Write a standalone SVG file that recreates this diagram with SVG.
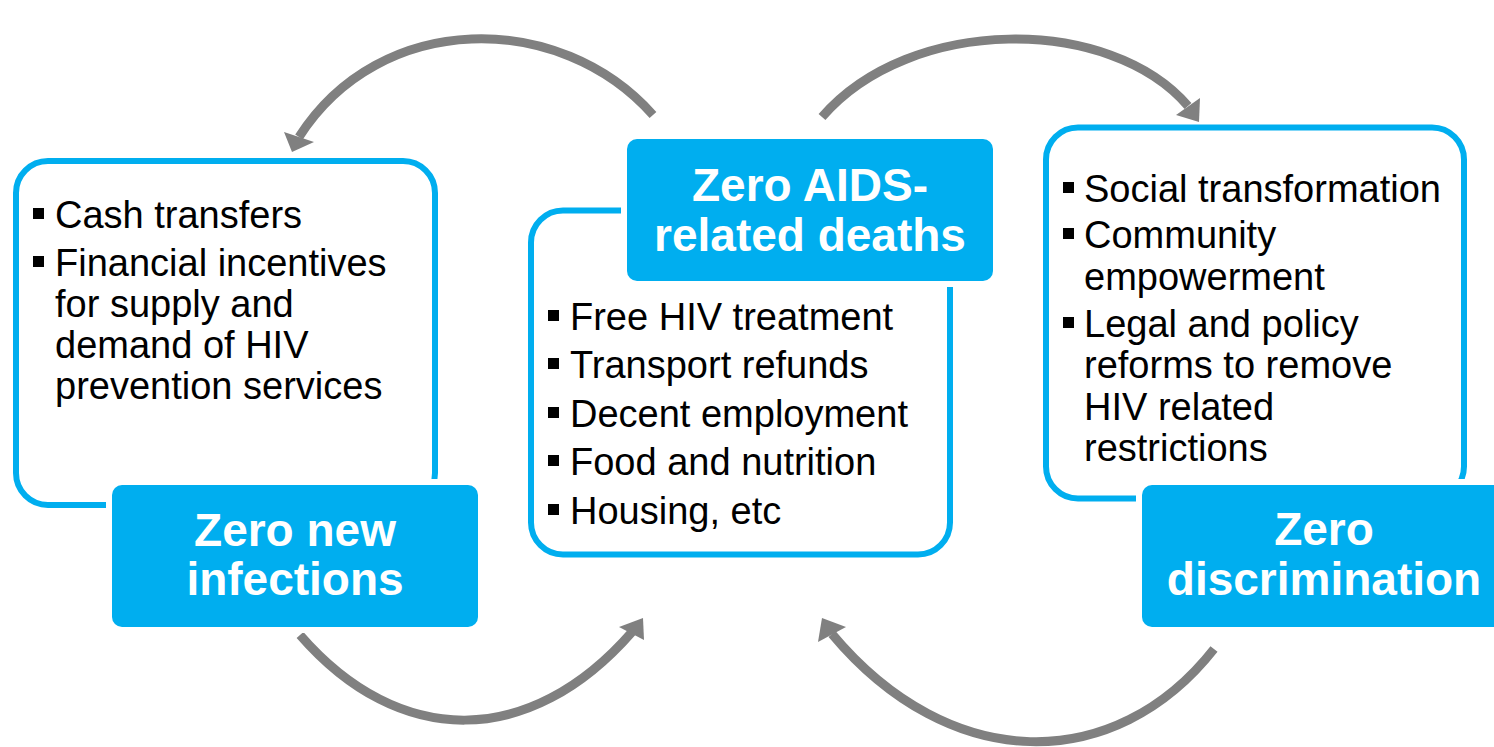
<svg xmlns="http://www.w3.org/2000/svg" width="1494" height="747" viewBox="0 0 1494 747">
  <style>
    .frame { fill: #ffffff; stroke: #00AEEF; stroke-width: 6; }
    .tag { fill: #00AEEF; stroke: #ffffff; stroke-width: 12; paint-order: stroke; }
    .tag-text { font-family: "Liberation Sans", Arial, sans-serif; font-weight: bold; font-size: 46px; fill: #ffffff; text-anchor: middle; }
    .item { font-family: "Liberation Sans", Arial, sans-serif; font-size: 38px; fill: #000000; }
    .dot { fill: #000000; }
    .shaft { fill: none; stroke: #808080; stroke-width: 9; }
    .head { fill: #808080; }
  </style>

  <!-- cycle arrows -->
  <g id="connectors">
    <path class="shaft" d="M653,115 C560,10 380,10 299,137"/>
    <polygon class="head" points="284,132 314,142 292,152"/>

    <path class="shaft" d="M822,117 C910,15 1110,15 1188,106"/>
    <polygon class="head" points="1176,115 1200,98 1199,122"/>

    <path class="shaft" d="M300,635 C399,749 530,749 632,632"/>
    <polygon class="head" points="619,627 644,640 643,618"/>

    <path class="shaft" d="M1214,649 C1115,775 950,775 832,634"/>
    <polygon class="head" points="818,642 846,627 822,618"/>
  </g>

  <!-- Zero new infections -->
  <g id="node-infections">
    <rect class="frame" x="16" y="161" width="419" height="344" rx="32"/>
    <rect class="dot" x="33" y="208" width="11" height="11"/>
    <text class="item" x="55" y="228">Cash transfers</text>
    <rect class="dot" x="33" y="256" width="11" height="11"/>
    <text class="item" x="55" y="276">Financial incentives</text>
    <text class="item" x="55" y="317">for supply and</text>
    <text class="item" x="55" y="358">demand of HIV</text>
    <text class="item" x="55" y="399">prevention services</text>
    <rect class="tag" x="112" y="485" width="366" height="142" rx="10"/>
    <text class="tag-text" x="295" y="546">Zero new</text>
    <text class="tag-text" x="295" y="595">infections</text>
  </g>

  <!-- Zero AIDS-related deaths -->
  <g id="node-deaths">
    <rect class="frame" x="531" y="210.5" width="419" height="344" rx="32"/>
    <rect class="dot" x="548" y="310" width="11" height="11"/>
    <text class="item" x="570" y="330">Free HIV treatment</text>
    <rect class="dot" x="548" y="358" width="11" height="11"/>
    <text class="item" x="570" y="378">Transport refunds</text>
    <rect class="dot" x="548" y="407" width="11" height="11"/>
    <text class="item" x="570" y="427">Decent employment</text>
    <rect class="dot" x="548" y="455" width="11" height="11"/>
    <text class="item" x="570" y="475">Food and nutrition</text>
    <rect class="dot" x="548" y="504" width="11" height="11"/>
    <text class="item" x="570" y="524">Housing, etc</text>
    <rect class="tag" x="627" y="139" width="366" height="142" rx="10"/>
    <text class="tag-text" x="810" y="201">Zero AIDS-</text>
    <text class="tag-text" x="810" y="251">related deaths</text>
  </g>

  <!-- Zero discrimination -->
  <g id="node-discrimination">
    <rect class="frame" x="1046" y="127.5" width="418" height="371" rx="32"/>
    <rect class="dot" x="1063" y="182" width="11" height="11"/>
    <text class="item" x="1084" y="202">Social transformation</text>
    <rect class="dot" x="1063" y="228" width="11" height="11"/>
    <text class="item" x="1084" y="248">Community</text>
    <text class="item" x="1084" y="290">empowerment</text>
    <rect class="dot" x="1063" y="317" width="11" height="11"/>
    <text class="item" x="1084" y="337">Legal and policy</text>
    <text class="item" x="1084" y="378">reforms to remove</text>
    <text class="item" x="1084" y="420">HIV related</text>
    <text class="item" x="1084" y="461">restrictions</text>
    <rect class="tag" x="1142" y="485" width="366" height="142" rx="10"/>
    <text class="tag-text" x="1324" y="545">Zero</text>
    <text class="tag-text" x="1324" y="595">discrimination</text>
  </g>
</svg>
